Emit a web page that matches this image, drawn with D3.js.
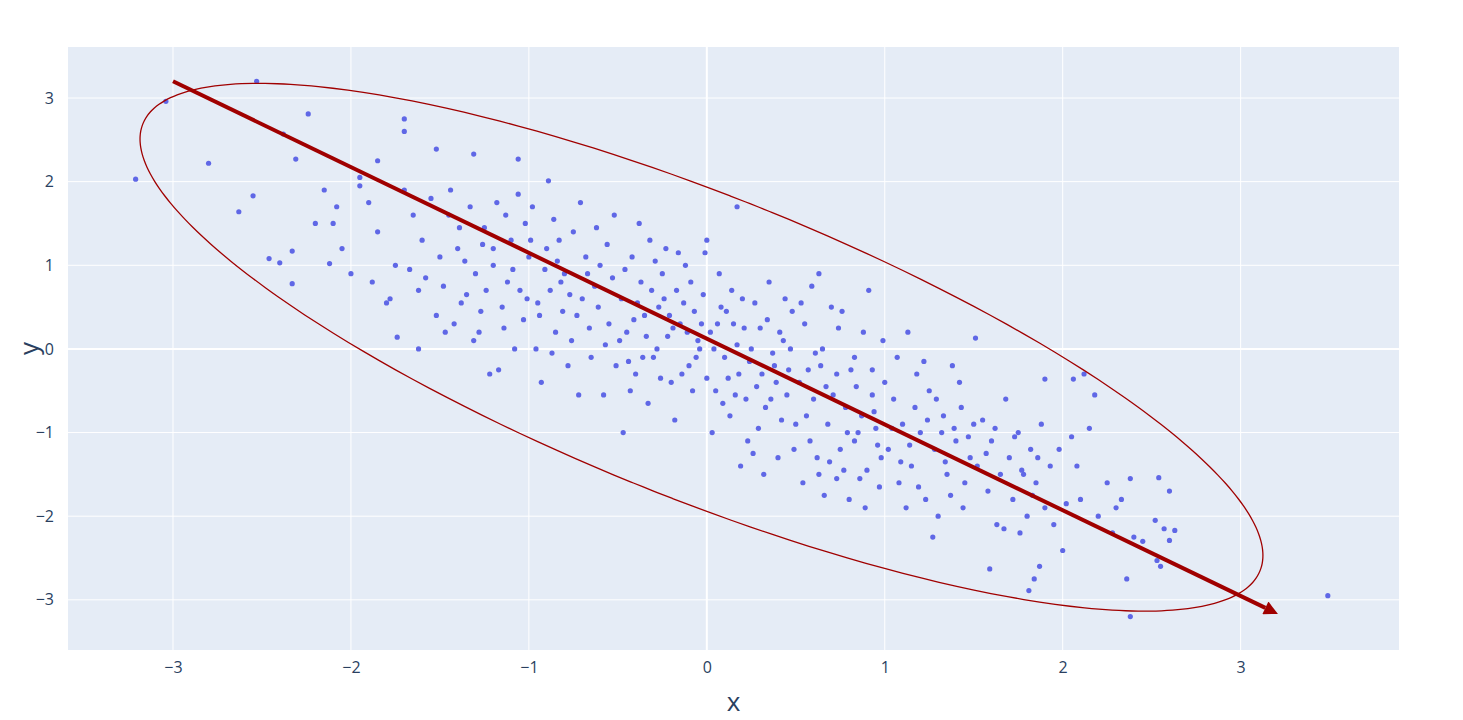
<!DOCTYPE html>
<html>
<head>
<meta charset="utf-8">
<script src="https://cdn.jsdelivr.net/npm/d3@7"></script>
<style>
  body { margin: 0; background: #fff; }
  text { font-family: "Open Sans", sans-serif; }
</style>
</head>
<body>
<svg id="svg" width="1463" height="720"></svg>
<script>
// samples (x, y)
const points = [
  [-3.04,2.96],[-3.21,2.03],[-2.80,2.22],[-2.53,3.20],[-2.24,2.81],[-2.63,1.64],[-2.55,1.83],[-2.31,2.27],
  [-2.38,2.57],[-2.33,1.17],[-2.46,1.08],[-2.40,1.03],[-2.12,1.02],[-1.70,2.60],[-1.70,2.75],[-1.52,2.39],
  [-1.31,2.33],[-1.06,2.27],[-0.89,2.01],[0.17,1.70],[-1.62,0.0],[-1.74,0.14],[-2.33,0.78],[3.49,-2.95],
  [2.38,-3.2],[2.36,-2.75],[2.53,-2.53],[1.90,-0.36],[2.06,-0.36],[1.51,0.13],[2.60,-2.29],[2.52,-2.05],
  [2.63,-2.17],[2.54,-1.54],[1.59,-2.63],[1.81,-2.89],[1.84,-2.75],[2.0,-2.41],
  [-1.95,2.05],[-1.9,1.75],[-1.85,1.4],[-1.8,0.55],[-1.78,0.6],[-2.0,0.9],[-2.05,1.2],[-2.1,1.5],[-1.95,1.95],
  [-1.7,1.9],[-1.75,1.0],[-1.65,1.6],[-1.6,1.3],[-1.55,1.8],[-1.58,0.85],[-1.62,0.7],[-1.5,1.1],[-1.52,0.4],
  [-2.2,1.5],[-2.15,1.9],[-1.85,2.25],[-1.67,0.95],[-1.88,0.8],[-2.08,1.7],
  [-1.45,1.6],[-1.4,1.2],[-1.35,0.65],[-1.3,0.9],[-1.25,1.45],[-1.2,1.0],[-1.15,0.5],[-1.1,1.3],[-1.05,0.7],
  [-1.0,1.1],[-1.42,0.3],[-1.38,0.55],[-1.33,1.7],[-1.28,0.2],[-1.22,-0.3],[-1.18,1.75],[-1.12,0.8],[-1.08,0.0],
  [-1.02,1.5],[-1.48,0.75],[-1.44,1.9],[-1.36,1.05],[-1.27,0.45],[-1.17,-0.25],[-1.13,1.6],[-1.03,0.35],
  [-1.47,0.2],[-1.24,0.7],[-1.06,1.85],[-1.14,0.25],[-1.39,1.45],[-1.31,0.1],[-1.2,1.2],[-1.01,0.6],[-1.09,0.95],[-1.26,1.25],
  [-0.95,0.55],[-0.9,1.2],[-0.85,0.2],[-0.8,0.9],[-0.75,1.4],[-0.7,0.6],[-0.65,-0.1],[-0.6,1.0],[-0.55,0.3],
  [-0.52,1.6],[-0.98,1.7],[-0.93,-0.4],[-0.88,0.7],[-0.83,1.3],[-0.78,-0.2],[-0.73,0.4],[-0.68,1.1],[-0.63,0.75],
  [-0.58,-0.55],[-0.53,0.85],[-0.96,0.0],[-0.91,0.95],[-0.86,1.55],[-0.81,0.45],[-0.76,0.1],[-0.71,1.75],
  [-0.66,0.25],[-0.61,0.5],[-0.56,1.25],[-0.51,-0.2],[-0.99,1.3],[-0.87,-0.05],[-0.77,0.65],[-0.67,0.9],
  [-0.57,0.05],[-0.82,0.8],[-0.72,-0.55],[-0.62,1.45],[-0.94,0.4],[-0.84,1.05],
  [-0.48,0.6],[-0.45,0.2],[-0.42,1.1],[-0.4,-0.3],[-0.37,0.8],[-0.35,0.4],[-0.32,1.3],[-0.3,-0.1],[-0.27,0.5],
  [-0.25,0.9],[-0.22,0.15],[-0.2,-0.4],[-0.17,0.7],[-0.15,0.3],[-0.12,1.0],[-0.1,-0.2],[-0.07,0.45],[-0.05,0.1],
  [-0.02,0.65],[0.0,-0.35],[-0.47,-1.0],[-0.43,-0.5],[-0.38,1.5],[-0.33,-0.65],[-0.28,0.0],[-0.23,1.2],
  [-0.18,-0.85],[-0.13,0.55],[-0.08,-0.5],[-0.03,0.3],[-0.46,0.95],[-0.41,0.35],[-0.36,-0.1],[-0.31,0.7],
  [-0.26,-0.35],[-0.21,0.4],[-0.16,1.15],[-0.11,0.2],[-0.06,-0.1],[-0.01,1.15],[-0.44,-0.15],[-0.34,0.15],
  [-0.24,0.6],[-0.14,-0.3],[-0.04,0.0],[-0.39,0.55],[-0.29,1.05],[-0.19,0.25],[-0.09,0.8],[-0.49,0.1],
  [0.02,0.2],[0.05,-0.5],[0.08,0.5],[0.1,-0.1],[0.13,-0.8],[0.15,0.3],[0.18,-0.3],[0.2,0.6],[0.23,-1.1],
  [0.25,0.0],[0.28,-0.45],[0.3,0.25],[0.33,-0.7],[0.35,0.8],[0.38,-0.2],[0.4,-1.3],[0.43,0.1],[0.45,-0.55],
  [0.48,0.45],[0.5,-0.9],[0.03,-1.0],[0.07,0.9],[0.12,-0.35],[0.17,0.05],[0.22,-0.6],[0.27,0.55],[0.32,-1.5],
  [0.37,-0.05],[0.42,-0.85],[0.47,0.0],[0.04,0.0],[0.09,-0.65],[0.14,0.7],[0.19,-1.4],[0.24,-0.15],[0.29,-0.95],
  [0.34,0.35],[0.39,-0.4],[0.44,0.6],[0.49,-1.2],[0.06,0.3],[0.16,-0.55],[0.26,-1.25],[0.36,-0.6],[0.46,-0.25],
  [0.11,0.45],[0.21,0.25],[0.31,-0.3],[0.41,0.2],[0.0,1.3],
  [0.52,-0.4],[0.55,0.3],[0.58,-1.1],[0.6,-0.6],[0.63,-1.5],[0.65,0.0],[0.68,-0.9],[0.7,0.5],[0.73,-0.3],
  [0.75,-1.2],[0.78,-0.7],[0.8,-1.8],[0.83,-0.1],[0.85,-1.0],[0.88,0.2],[0.9,-1.45],[0.93,-0.55],[0.95,-0.95],
  [0.98,-1.3],[1.0,-0.4],[0.54,-1.6],[0.59,0.75],[0.64,-0.2],[0.69,-1.35],[0.74,0.25],[0.79,-1.0],[0.84,-0.45],
  [0.89,-1.9],[0.94,-0.75],[0.99,0.1],[0.56,-0.8],[0.61,-0.05],[0.66,-1.75],[0.71,-0.55],[0.76,0.45],
  [0.81,-0.25],[0.86,-1.55],[0.91,0.7],[0.96,-1.15],[0.53,0.55],[0.63,0.9],[0.73,-1.55],[0.83,-1.1],
  [0.93,-0.25],[0.57,-0.25],[0.67,-0.45],[0.77,-1.45],[0.87,-0.8],[0.97,-1.65],[0.62,-1.3],
  [1.02,-1.2],[1.05,-0.6],[1.08,-1.6],[1.1,-0.9],[1.13,0.2],[1.15,-1.4],[1.18,-0.3],[1.2,-1.0],[1.23,-1.8],
  [1.25,-0.5],[1.28,-1.2],[1.3,-2.0],[1.33,-0.8],[1.35,-1.5],[1.38,-0.2],[1.4,-1.1],[1.43,-0.7],[1.45,-1.6],
  [1.48,-1.3],[1.5,-0.9],[1.07,-0.1],[1.12,-1.9],[1.17,-0.7],[1.22,-0.15],[1.27,-2.25],[1.32,-1.0],
  [1.37,-1.75],[1.42,-0.4],[1.47,-1.05],[1.04,-0.95],[1.14,-1.15],[1.24,-0.85],[1.34,-1.35],[1.44,-1.9],
  [1.09,-1.35],[1.19,-1.65],[1.29,-0.6],[1.39,-0.95],
  [1.52,-1.4],[1.55,-0.85],[1.58,-1.7],[1.6,-1.1],[1.63,-2.1],[1.65,-1.5],[1.68,-0.6],[1.7,-1.3],[1.72,-1.8],
  [1.75,-1.0],[1.78,-1.5],[1.8,-2.0],[1.82,-1.2],[1.85,-1.6],[1.88,-0.9],[1.9,-1.9],[1.93,-1.4],[1.95,-2.1],
  [1.98,-1.2],[1.57,-1.25],[1.67,-2.15],[1.73,-1.05],[1.77,-1.45],[1.83,-1.75],[1.87,-2.6],[1.62,-0.95],
  [1.76,-2.2],[1.86,-1.3],
  [2.05,-1.05],[2.1,-1.8],[2.15,-0.95],[2.2,-2.0],[2.25,-1.6],[2.28,-2.2],[2.33,-1.8],[2.4,-2.25],[2.45,-2.3],
  [2.55,-2.6],[2.57,-2.15],[2.6,-1.7],[2.12,-0.3],[2.18,-0.55],[2.3,-1.9],[2.38,-1.55],[2.02,-1.85],[2.08,-1.4]
];
const xTicks = [-3, -2, -1, 0, 1, 2, 3];
const yTicks = [-3, -2, -1, 0, 1, 2, 3];
// principal axis arrow and ellipse (center, semi-axes along (1,-1) and (1,1))
const arrow = [[-3.0, 3.2], [3.22, -3.18]];
const ellipseCenter = [-0.03, 0.02];
const ellipseAxes = [4.22, 1.45];

let svg = d3.select("#svg");
const plotLeft = 68, plotRight = 1399, plotTop = 47, plotBottom = 650;

let x = d3.scaleLinear().domain([-3.59, 3.89]).range([plotLeft, plotRight]);
let y = d3.scaleLinear().domain([-3.6, 3.61]).range([plotBottom, plotTop]);

svg.append("rect").attr("x", plotLeft).attr("y", plotTop)
  .attr("width", plotRight - plotLeft).attr("height", plotBottom - plotTop).attr("fill", "#e5ecf6");

// grid
svg.append("g").selectAll("line").data(xTicks).enter().append("line")
  .attr("x1", d => x(d)).attr("x2", d => x(d)).attr("y1", plotTop).attr("y2", plotBottom)
  .attr("stroke", "#fff").attr("stroke-width", d => d === 0 ? 2 : 1);
svg.append("g").selectAll("line").data(yTicks).enter().append("line")
  .attr("y1", d => y(d)).attr("y2", d => y(d)).attr("x1", plotLeft).attr("x2", plotRight)
  .attr("stroke", "#fff").attr("stroke-width", d => d === 0 ? 2 : 1);

// tick labels
let xAxis = svg.append("g").attr("transform", `translate(0,${plotBottom})`)
  .call(d3.axisBottom(x).tickValues(xTicks).tickSize(0).tickPadding(12).tickFormat(d => d < 0 ? "\u2212" + (-d) : d));
let yAxis = svg.append("g").attr("transform", `translate(${plotLeft},0)`)
  .call(d3.axisLeft(y).tickValues(yTicks).tickSize(0).tickPadding(14).tickFormat(d => d < 0 ? "\u2212" + (-d) : d));
[xAxis, yAxis].forEach(a => {
  a.select(".domain").remove();
  a.selectAll("text").attr("fill", "#2a3f5f").style("font-size", "16px").style("font-family", "Open Sans, sans-serif");
});

svg.append("text").attr("x", (plotLeft + plotRight) / 2).attr("y", 711).attr("text-anchor", "middle")
  .attr("fill", "#2a3f5f").style("font-size", "26px").text("x");
svg.append("text").attr("transform", `translate(38,${(plotTop + plotBottom) / 2}) rotate(-90)`)
  .attr("text-anchor", "middle").attr("fill", "#2a3f5f").style("font-size", "26px").text("y");

// points
svg.append("g").selectAll("circle").data(points).enter().append("circle")
  .attr("cx", d => x(d[0])).attr("cy", d => y(d[1])).attr("r", 2.6)
  .attr("fill", "#5f67e6");

// ellipse
const s = Math.SQRT1_2;
let ell = d3.range(0, 360, 2).map(t => {
  const a = t * Math.PI / 180;
  const p = ellipseAxes[0] * Math.cos(a), q = ellipseAxes[1] * Math.sin(a);
  return [ellipseCenter[0] + s * (p + q), ellipseCenter[1] + s * (-p + q)];
});
svg.append("path").datum(ell)
  .attr("d", d3.line().x(d => x(d[0])).y(d => y(d[1])).curve(d3.curveCardinalClosed))
  .attr("fill", "none").attr("stroke", "#a00000").attr("stroke-width", 1.3);

// arrow
svg.append("defs").append("marker").attr("id", "head")
  .attr("viewBox", "0 0 10 10").attr("refX", 0).attr("refY", 5)
  .attr("markerWidth", 4).attr("markerHeight", 3.5).attr("orient", "auto")
  .append("path").attr("d", "M0,0L10,5L0,10Z").attr("fill", "#a00000");
const x0 = x(arrow[0][0]), y0 = y(arrow[0][1]), x1 = x(arrow[1][0]), y1 = y(arrow[1][1]);
const len = Math.hypot(x1 - x0, y1 - y0), back = 16;
svg.append("line")
  .attr("x1", x0).attr("y1", y0)
  .attr("x2", x1 - (x1 - x0) / len * back).attr("y2", y1 - (y1 - y0) / len * back)
  .attr("stroke", "#a00000").attr("stroke-width", 4).attr("marker-end", "url(#head)");
</script>
</body>
</html>
